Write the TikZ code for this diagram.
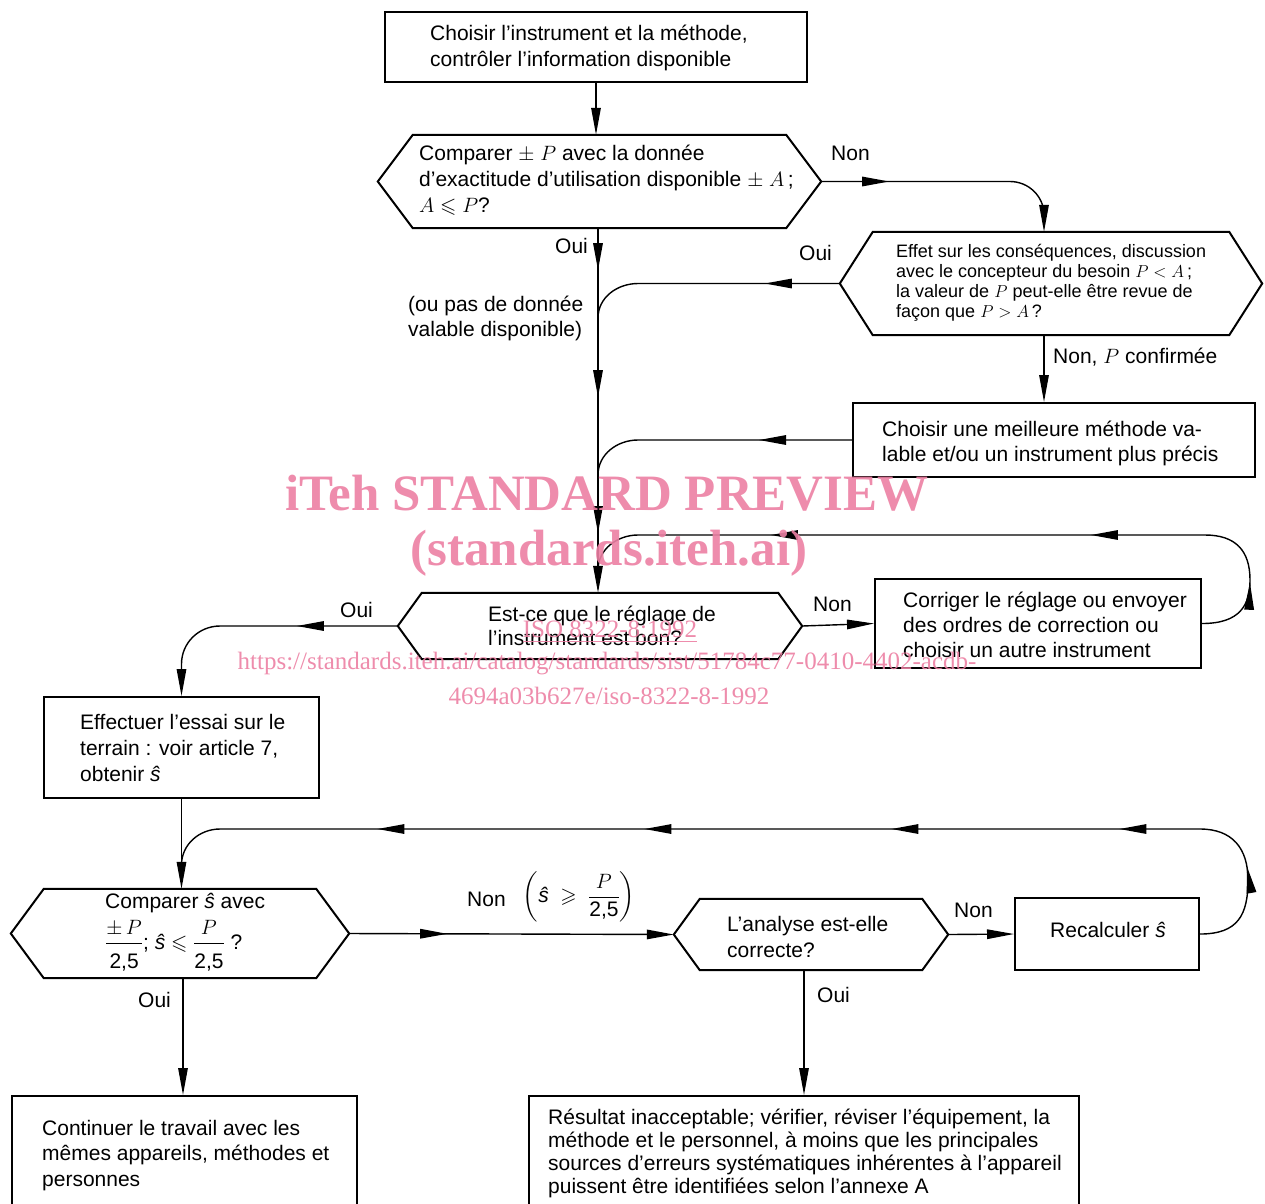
\documentclass[tikz,border=0pt]{standalone}
\usepackage{amsmath}
\usepackage{amssymb}
\usepackage{fontspec}
\setmainfont{Liberation Sans}
\newfontfamily\wmfont{Liberation Serif}
\usetikzlibrary{arrows.meta,decorations.markings}
\definecolor{wmpink}{RGB}{236,128,163}
\newcommand\shat{\textit{ŝ}}
\newcommand\hexpath[2]{\draw[shapeline] ([xshift=#2]#1.north west) -- ([xshift=-#2]#1.north east) -- (#1.east) -- ([xshift=-#2]#1.south east) -- ([xshift=#2]#1.south west) -- (#1.west) -- cycle;}
\tikzset{
  >={Triangle[length=27pt,width=9.5pt]},
  box/.style={draw, line width=2pt, inner sep=0pt},
  hexbox/.style={inner sep=0pt},
  shapeline/.style={line width=2pt, line join=miter},
  conn/.style={line width=1.4pt},
  arr/.style={postaction={decorate,decoration={markings,mark=at position #1 with {\arrow{>}}}}},
  txt/.style={inner sep=0pt, align=left, anchor=base west, font=\fontsize{21}{26}\selectfont},
  wm/.style={text=wmpink, inner sep=0pt, text opacity=0.9},
}
\begin{document}
\begin{tikzpicture}[x=1pt,y=-1pt]
\useasboundingbox (0,0) rectangle (1265,1203);
% boxes
\node[box, minimum width=422, minimum height=70] (b1) at (596,47) {};
\node[box, minimum width=402, minimum height=74] (b4) at (1054,440) {};
\node[box, minimum width=326, minimum height=89] (b6) at (1038,623.5) {};
\node[box, minimum width=275, minimum height=101] (b7) at (181.5,747.5) {};
\node[box, minimum width=184, minimum height=72] (b10) at (1107,934) {};
\node[box, minimum width=345, minimum height=119] (b11) at (184.5,1155.5) {};
\node[box, minimum width=550, minimum height=119] (b12) at (804,1155.5) {};
% hexagons
\node[hexbox, minimum width=443, minimum height=93] (h2) at (599.5,181.5) {};
\hexpath{h2}{35}
\node[hexbox, minimum width=422, minimum height=103] (h3) at (1051,283.5) {};
\hexpath{h3}{33}
\node[hexbox, minimum width=404, minimum height=66] (h5) at (600,626) {};
\hexpath{h5}{24}
\node[hexbox, minimum width=338, minimum height=89] (h8) at (180,933.5) {};
\hexpath{h8}{33}
\node[hexbox, minimum width=274, minimum height=71] (h9) at (811,934.5) {};
\hexpath{h9}{26}
% texts (anchor = baseline of the last line)
\node[txt] (t1) at (430,66) {Choisir l’instrument et la méthode,\\contrôler l’information disponible};
\node[txt] (t2) at (419,212) {Comparer $\pm\;P$ avec la donnée\\d’exactitude d’utilisation disponible $\pm\;A$\,;\\$A\leqslant P$?};
\node[txt, font=\fontsize{18}{20}\selectfont] (t3) at (896,317) {Effet sur les conséquences, discussion\\avec le concepteur du besoin $P<A$\,;\\la valeur de $P$ peut-elle être revue de\\façon que $P>A$\,?};
\node[txt, font=\fontsize{21}{25}\selectfont] (t4) at (882,461) {Choisir une meilleure méthode va-\\lable et/ou un instrument plus précis};
\node[txt, font=\fontsize{21}{24}\selectfont] (t5) at (488,645) {Est-ce que le réglage de\\l’instrument est bon?};
\node[txt, font=\fontsize{21}{25}\selectfont] (t6) at (903,657) {Corriger le réglage ou envoyer\\des ordres de correction ou\\choisir un autre instrument};
\node[txt] (t7) at (80,781) {Effectuer l’essai sur le\\terrain : voir article 7,\\obtenir \shat};
\node[txt] (t8a) at (105,908) {Comparer \shat{} avec};
\node[txt] (t8b) at (105,949) {$\dfrac{\pm\,P}{\mbox{2,5}\rule{0pt}{22pt}}\mbox{; \shat{}}\leqslant\dfrac{P}{\mbox{2,5}\rule{0pt}{22pt}}\mbox{ ?}$};
\node[txt] (t9) at (727,957) {L’analyse est-elle\\correcte?};
\node[txt] (t10) at (1050,937) {Recalculer \shat};
\node[txt, font=\fontsize{21}{25.5}\selectfont] (t11) at (42,1186) {Continuer le travail avec les\\mêmes appareils, méthodes et\\personnes};
\node[txt, font=\fontsize{21}{23}\selectfont] (t12) at (548,1193) {Résultat inacceptable; vérifier, réviser l’équipement, la\\méthode et le personnel, à moins que les principales\\sources d’erreurs systématiques inhérentes à l’appareil\\puissent être identifiées selon l’annexe A};
% labels
\node[txt] (l1) at (831,160) {Non};
\node[txt] (l2) at (799,260) {Oui};
\node[txt] (l3) at (555,253) {Oui};
\node[txt, font=\fontsize{21}{25}\selectfont] (l4) at (408,336) {(ou pas de donnée\\valable disponible)};
\node[txt] (l5) at (1053,363) {Non, $P$ confirmée};
\node[txt] (l6) at (340,617) {Oui};
\node[txt] (l7) at (813,611) {Non};
\node[txt] (l8) at (467,906) {Non};
\node[txt, anchor=center] (l9) at (579,897) {$\left(\mbox{\shat}\;\geqslant\;\dfrac{P}{\mbox{2,5}}\right)$};
\node[txt] (l10) at (954,917) {Non};
\node[txt] (l11) at (138,1007) {Oui};
\node[txt] (l12) at (817,1002) {Oui};
% coordinates
\coordinate (m1) at (598,318);
\coordinate (m2) at (598,475);
\coordinate (m3) at (598,570);
\coordinate (m4) at (181.5,865);
% connectors
\draw[conn,->] (b1.south) -- (b1.south |- h2.north);
\draw[conn,->,arr=42pt,arr=169pt,arr=305pt] (598,0 |- h2.south) -- (598,0 |- h5.north);
\draw[conn,->,arr=68pt] (h2.east) -- (1010,181.5) to[out=0,in=90] (1044,215) -- (1044,0 |- h3.north);
\draw[conn,arr=75pt] (h3.west) -- (638,283.5) to[out=180,in=90] (m1);
\draw[conn,->] (1044,0 |- h3.south) -- (1044,0 |- b4.north);
\draw[conn,arr=93pt] (b4.west) -- (638,440) to[out=180,in=90] (m2);
\draw[conn,arr=72pt,arr=-192pt,arr=-512pt] (b6.east) .. controls (1240,623.5) and (1250,605) .. (1250,580) .. controls (1250,550) and (1235,535) .. (1205,535) -- (638,535) to[out=180,in=90] (m3);
\draw[conn,->] (h5.east) -- (b6.west);
\draw[conn,->,arr=101pt] (h5.west) -- (220,626) to[out=180,in=90] ([yshift=32]b7.north) -- (b7.north);
\draw[conn,->] (b7.south) -- (b7.south |- h8.north);
\draw[conn,arr=98pt,arr=-216pt,arr=-483pt,arr=-730pt,arr=-958pt] (b10.east) .. controls (1238,934) and (1248,915) .. (1248,880) .. controls (1248,848) and (1232,829) .. (1200,829) -- (220,829) to[out=180,in=90] (m4);
\draw[conn,->,arr=98pt] (h8.east) -- (h9.west);
\draw[conn,->] (h9.east) -- (b10.west);
\draw[conn,->] (h8.south -| 183,0) -- (183,0 |- b11.north);
\draw[conn,->] (b12.north |- h9.south) -- (b12.north);
% watermark
\node[wm, font=\wmfont\bfseries\fontsize{51}{56}\selectfont] (w1) at (607,493) {iTeh STANDARD PREVIEW};
\node[wm, font=\wmfont\bfseries\fontsize{51}{56}\selectfont] (w2) at (609,553) {(standards.iteh.ai)};
\node[wm, font=\wmfont\fontsize{25}{28}\selectfont] (w3) at (610,632) {\underline{ISO 8322-8:1992}};
\node[wm, font=\wmfont\fontsize{25}{28}\selectfont] (w4) at (607,664) {https://standards.iteh.ai/catalog/standards/sist/51784c77-0410-4402-acdb-};
\node[wm, font=\wmfont\fontsize{25}{28}\selectfont] (w5) at (609,696) {4694a03b627e/iso-8322-8-1992};
\end{tikzpicture}
\end{document}
